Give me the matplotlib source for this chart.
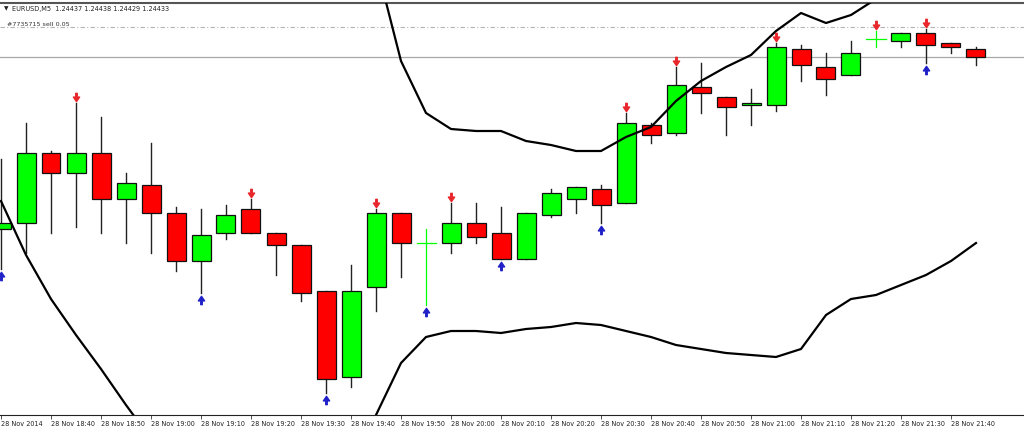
import numpy as np
import matplotlib.pyplot as plt
from matplotlib.patches import Rectangle
from matplotlib.path import Path
import matplotlib.transforms as mtransforms

nan = np.nan

# EURUSD M5, 28 Nov 2014, one candle every 5 minutes from 18:30
opens = [1.24347, 1.24350, 1.24385, 1.24375, 1.24385, 1.24362, 1.24369, 1.24355, 1.24331, 1.24345,
         1.24357, 1.24345, 1.24339, 1.24316, 1.24273, 1.24318, 1.24355, 1.24340, 1.24340, 1.24350,
         1.24345, 1.24332, 1.24354, 1.24362, 1.24367, 1.24360, 1.24399, 1.24395, 1.24418, 1.24413,
         1.24409, 1.24409, 1.24437, 1.24428, 1.24424, 1.24442, 1.24441, 1.24445, 1.24440, 1.24437]
highs = [1.24382, 1.24400, 1.24386, 1.24410, 1.24403, 1.24375, 1.24390, 1.24358, 1.24357, 1.24359,
         1.24362, 1.24345, 1.24339, 1.24316, 1.24329, 1.24357, 1.24355, 1.24347, 1.24360, 1.24360,
         1.24358, 1.24355, 1.24367, 1.24368, 1.24369, 1.24405, 1.24400, 1.24428, 1.24430, 1.24413,
         1.24417, 1.24440, 1.24439, 1.24435, 1.24441, 1.24446, 1.24445, 1.24447, 1.24440, 1.24438]
lows = [1.24327, 1.24335, 1.24345, 1.24348, 1.24345, 1.24340, 1.24335, 1.24326, 1.24315, 1.24342,
        1.24345, 1.24324, 1.24311, 1.24265, 1.24268, 1.24306, 1.24323, 1.24309, 1.24335, 1.24340,
        1.24332, 1.24332, 1.24353, 1.24355, 1.24350, 1.24360, 1.24390, 1.24394, 1.24405, 1.24394,
        1.24399, 1.24406, 1.24421, 1.24414, 1.24424, 1.24438, 1.24438, 1.24430, 1.24435, 1.24429]
closes = [1.24350, 1.24385, 1.24375, 1.24385, 1.24362, 1.24370, 1.24355, 1.24331, 1.24344, 1.24354,
          1.24345, 1.24339, 1.24315, 1.24272, 1.24316, 1.24355, 1.24340, 1.24340, 1.24350, 1.24343,
          1.24332, 1.24355, 1.24365, 1.24368, 1.24359, 1.24400, 1.24394, 1.24419, 1.24415, 1.24408,
          1.24410, 1.24438, 1.24429, 1.24422, 1.24435, 1.24442, 1.24445, 1.24439, 1.24438, 1.24433]

# bands (nan = out of the visible range)
upper = [nan] * 15 + [1.24480, 1.24431, 1.24405, 1.24397, 1.24396, 1.24396, 1.24391, 1.24389,
                      1.24386, 1.24386, 1.24393, 1.24398, 1.24411, 1.24421, 1.24428, 1.24434,
                      1.24446, 1.24455, 1.24450, 1.24454, 1.24462] + [nan] * 4
lower = [1.24361, 1.24334, 1.24312, 1.24294, 1.24277, 1.24259, 1.24242] + [nan] * 7 + \
        [1.24228, 1.24254, 1.24280, 1.24293, 1.24296, 1.24296, 1.24295, 1.24297, 1.24298,
         1.24300, 1.24299, 1.24296, 1.24293, 1.24289, 1.24287, 1.24285, 1.24284, 1.24283,
         1.24287, 1.24304, 1.24312, 1.24314, 1.24319, 1.24324, 1.24331, 1.24340]

sell_arrows = [3, 10, 15, 18, 25, 27, 31, 35, 37]
buy_arrows = [0, 8, 13, 17, 20, 24, 37]

order_price = 1.24448
order_text = '#7735715 sell 0.05'

tick_labels = ['28 Nov 2014', '28 Nov 18:40', '28 Nov 18:50', '28 Nov 19:00', '28 Nov 19:10',
               '28 Nov 19:20', '28 Nov 19:30', '28 Nov 19:40', '28 Nov 19:50', '28 Nov 20:00',
               '28 Nov 20:10', '28 Nov 20:20', '28 Nov 20:30', '28 Nov 20:40', '28 Nov 20:50',
               '28 Nov 21:00', '28 Nov 21:10', '28 Nov 21:20', '28 Nov 21:30', '28 Nov 21:40']

green = '#00ff00'
red = '#ff0000'
wick = '#222222'
w = 0.76

fig = plt.figure(figsize=(10.24, 4.30), dpi=100)
ax = fig.add_axes([0, 15 / 430, 1, 412 / 430])

x = np.arange(len(opens))
for i in x:
    o, h, l, c = opens[i], highs[i], lows[i], closes[i]
    if o == c:
        ax.plot([i, i], [l, h], color=green, lw=0.9, zorder=2)
        ax.plot([i - w / 2, i + w / 2], [o, o], color=green, lw=0.9, zorder=2)
        continue
    ax.plot([i, i], [l, h], color=wick, lw=1, zorder=2)
    ax.add_patch(Rectangle((i - w / 2, min(o, c)), w, abs(c - o),
                           facecolor=green if c > o else red, edgecolor='#111111',
                           lw=0.9, zorder=3))

ax.plot(x, upper, color='black', lw=1.6, zorder=4)
ax.plot(x, lower, color='black', lw=1.6, zorder=4)

# signal arrows
down = Path([(-0.18, 1), (0.18, 1), (0.18, 0.1), (0.75, 0.1), (0, -1), (-0.75, 0.1), (-0.18, 0.1),
             (-0.18, 1)], closed=True)
up = Path(down.vertices * [1, -1], closed=True)
t_up = mtransforms.offset_copy(ax.transData, fig=fig, y=4.5, units='points')
t_dn = mtransforms.offset_copy(ax.transData, fig=fig, y=-5, units='points')
ax.plot(sell_arrows, [highs[i] for i in sell_arrows], ls='none', marker=down, ms=6,
        color='#e8262b', mec='#e8262b', transform=t_up, zorder=5, clip_on=False)
ax.plot(buy_arrows, [lows[i] for i in buy_arrows], ls='none', marker=up, ms=6,
        color='#2020c8', mec='#2020c8', transform=t_dn, zorder=5, clip_on=False)

# order and bid lines
ax.axhline(order_price, color='#b4b4b4', lw=0.8, ls=(0, (4, 2, 1, 2)), zorder=1)
ax.axhline(closes[-1], color='#a8a8a8', lw=0.9, zorder=1)
ax.text(0.007, order_price, order_text, transform=ax.get_yaxis_transform(), fontsize=4.6,
        color='#333333', va='bottom', ha='left')
ax.text(0.004, 0.985, '\u25bc', transform=ax.transAxes, fontsize=4.2, color='#222222',
        va='center', ha='left')
ax.text(0.012, 0.985, 'EURUSD,M5  %.5f %.5f %.5f %.5f' % (opens[-1], highs[-1], lows[-1], closes[-1]),
        transform=ax.transAxes, fontsize=4.7, color='#222222', va='center', ha='left')

ax.set_xlim(-0.04, 40.92)
ax.set_ylim(1.24254, 1.24460)
ax.set_xticks(x[::2])
ax.set_xticklabels(tick_labels, fontsize=4.7, ha='left', color='#222222')
ax.tick_params(axis='x', length=3, width=0.6, pad=1.5, color='#333333')
ax.set_yticks([])
for s in ['left', 'right']:
    ax.spines[s].set_visible(False)
ax.spines['bottom'].set_color('#222222')
ax.spines['top'].set_color('#555555')
ax.spines['top'].set_linewidth(1.5)

fig.savefig('out.png', dpi=100)
